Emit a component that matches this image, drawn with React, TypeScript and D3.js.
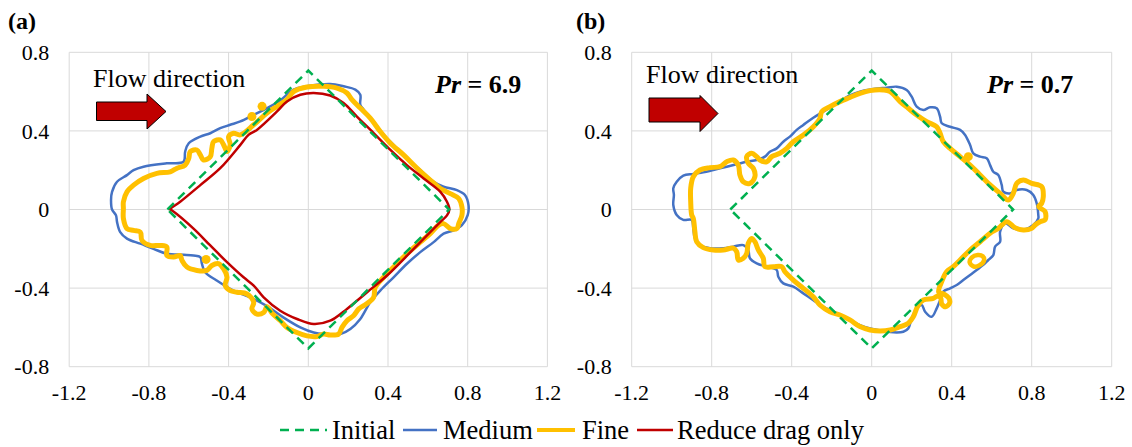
import React from "react";
import * as d3 from "d3";

// ---------- data ----------
const xTicks = [-1.2, -0.8, -0.4, 0, 0.4, 0.8, 1.2];
const yTicks = [-0.8, -0.4, 0, 0.4, 0.8];
const seriesNames = ["Initial", "Medium", "Fine", "Reduce drag only"];
const panelLabels = ["(a)", "(b)"];
const prLabels = ["6.9", "0.7"];
const flowText = "Flow direction";

const initialShape: [number, number][] = [
  [-0.707, 0], [0, 0.707], [0.707, 0], [0, -0.707],
];

const mediumA: [number, number][] = [
  [-0.985, 0.0], [-0.99, 0.05], [-0.985, 0.09], [-0.96, 0.141], [-0.91, 0.175], [-0.877, 0.2],
  [-0.827, 0.218], [-0.71, 0.235], [-0.626, 0.243], [-0.618, 0.295], [-0.6, 0.337], [-0.542, 0.371],
  [-0.492, 0.388], [-0.442, 0.414], [-0.392, 0.431], [-0.341, 0.448], [-0.274, 0.482], [-0.207, 0.516],
  [-0.141, 0.555], [-0.074, 0.61], [-0.007, 0.627], [0.11, 0.639], [0.177, 0.627], [0.236, 0.61],
  [0.261, 0.584], [0.261, 0.533], [0.278, 0.508], [0.328, 0.448], [0.378, 0.38], [0.428, 0.329],
  [0.495, 0.261], [0.562, 0.201], [0.629, 0.141], [0.679, 0.116], [0.746, 0.099], [0.787, 0.073],
  [0.804, 0.022], [0.8, -0.029], [0.771, -0.08], [0.729, -0.106], [0.679, -0.123], [0.629, -0.166],
  [0.562, -0.217], [0.495, -0.276], [0.428, -0.345], [0.361, -0.413], [0.311, -0.472], [0.261, -0.557],
  [0.211, -0.608], [0.161, -0.634], [0.077, -0.634], [0.027, -0.626], [-0.04, -0.6], [-0.124, -0.55],
  [-0.207, -0.492], [-0.291, -0.447], [-0.375, -0.413], [-0.46, -0.361], [-0.518, -0.319], [-0.534, -0.276],
  [-0.542, -0.242], [-0.576, -0.234], [-0.626, -0.23], [-0.71, -0.225], [-0.777, -0.2], [-0.843, -0.174],
  [-0.91, -0.148], [-0.944, -0.115], [-0.96, -0.063], [-0.965, -0.03],
];

const fineA: [number, number][] = [
  [-0.928, 0.005], [-0.928, 0.039], [-0.91, 0.09], [-0.877, 0.124], [-0.827, 0.158], [-0.76, 0.184],
  [-0.693, 0.192], [-0.659, 0.21], [-0.618, 0.226], [-0.6, 0.26], [-0.592, 0.295], [-0.559, 0.303],
  [-0.542, 0.278], [-0.526, 0.252], [-0.492, 0.269], [-0.484, 0.312], [-0.475, 0.346], [-0.442, 0.354],
  [-0.425, 0.329], [-0.408, 0.295], [-0.392, 0.329], [-0.4, 0.371], [-0.375, 0.388], [-0.341, 0.38],
  [-0.274, 0.431], [-0.207, 0.491], [-0.157, 0.525], [-0.107, 0.559], [-0.074, 0.6], [-0.007, 0.623],
  [0.077, 0.627], [0.144, 0.618], [0.194, 0.593], [0.219, 0.559], [0.261, 0.516], [0.311, 0.465],
  [0.361, 0.397], [0.412, 0.337], [0.478, 0.278], [0.546, 0.21], [0.612, 0.15], [0.663, 0.107],
  [0.713, 0.081], [0.755, 0.056], [0.771, 0.013], [0.771, -0.029], [0.755, -0.072], [0.746, -0.097],
  [0.713, -0.097], [0.679, -0.072], [0.654, -0.08], [0.612, -0.123], [0.562, -0.166], [0.495, -0.225],
  [0.428, -0.293], [0.378, -0.345], [0.336, -0.396], [0.328, -0.447], [0.303, -0.472], [0.278, -0.489],
  [0.253, -0.506], [0.228, -0.54], [0.194, -0.566], [0.169, -0.6], [0.152, -0.634], [0.11, -0.639],
  [0.077, -0.634], [0.044, -0.646], [-0.007, -0.643], [-0.057, -0.626], [-0.107, -0.6], [-0.141, -0.565],
  [-0.18, -0.53], [-0.207, -0.495], [-0.224, -0.524], [-0.258, -0.532], [-0.283, -0.506], [-0.274, -0.472],
  [-0.308, -0.43], [-0.358, -0.421], [-0.392, -0.413], [-0.417, -0.387], [-0.408, -0.345], [-0.425, -0.302],
  [-0.45, -0.276], [-0.484, -0.285], [-0.509, -0.31], [-0.559, -0.31], [-0.609, -0.293], [-0.634, -0.259],
  [-0.643, -0.234], [-0.676, -0.242], [-0.71, -0.234], [-0.71, -0.191], [-0.743, -0.183], [-0.793, -0.183],
  [-0.835, -0.157], [-0.843, -0.115], [-0.877, -0.106], [-0.91, -0.097], [-0.928, -0.046],
];

const fineDotsA: [number, number][] = [
  [-0.232, 0.525], [-0.283, 0.473], [-0.513, -0.254],
];

const reduceDragA: [number, number][] = [
  [-0.693, 0], [-0.643, 0.039], [-0.542, 0.124], [-0.442, 0.21], [-0.341, 0.329], [-0.3, 0.38],
  [-0.258, 0.405], [-0.157, 0.499], [-0.107, 0.55], [-0.04, 0.584], [0.027, 0.593], [0.11, 0.58],
  [0.177, 0.542], [0.244, 0.473], [0.328, 0.389], [0.412, 0.303], [0.495, 0.226], [0.579, 0.158],
  [0.663, 0.09], [0.696, 0.039], [0.708, 0], [0.696, -0.03], [0.663, -0.063], [0.529, -0.2],
  [0.395, -0.336], [0.295, -0.421], [0.194, -0.506], [0.11, -0.566], [0.027, -0.583], [-0.05, -0.56],
  [-0.141, -0.515], [-0.224, -0.447], [-0.274, -0.387], [-0.325, -0.345], [-0.408, -0.268],
  [-0.492, -0.183], [-0.576, -0.097], [-0.684, -0.005],
];

const mediumB: [number, number][] = [
  [-0.992, 0.023], [-0.989, 0.074], [-0.992, 0.108], [-0.975, 0.141], [-0.942, 0.172], [-0.892, 0.181],
  [-0.842, 0.189], [-0.792, 0.201], [-0.725, 0.218], [-0.675, 0.23], [-0.625, 0.243], [-0.575, 0.252],
  [-0.534, 0.269], [-0.509, 0.294], [-0.475, 0.311], [-0.442, 0.345], [-0.409, 0.371], [-0.375, 0.405],
  [-0.342, 0.43], [-0.292, 0.467], [-0.242, 0.498], [-0.175, 0.54], [-0.109, 0.581], [-0.059, 0.6],
  [0.008, 0.613], [0.075, 0.62], [0.125, 0.625], [0.175, 0.608], [0.2, 0.574], [0.225, 0.523],
  [0.258, 0.506], [0.292, 0.52], [0.325, 0.515], [0.342, 0.472], [0.35, 0.439], [0.392, 0.421],
  [0.442, 0.405], [0.467, 0.379], [0.492, 0.328], [0.508, 0.286], [0.542, 0.269], [0.575, 0.261],
  [0.592, 0.226], [0.608, 0.192], [0.633, 0.176], [0.65, 0.125], [0.658, 0.091], [0.692, 0.082],
  [0.725, 0.099], [0.775, 0.099], [0.808, 0.074], [0.825, 0.032], [0.833, -0.028], [0.833, -0.045],
  [0.808, -0.079], [0.758, -0.104], [0.708, -0.096], [0.667, -0.07], [0.642, -0.113], [0.642, -0.164],
  [0.617, -0.189], [0.608, -0.232], [0.583, -0.257], [0.558, -0.282], [0.525, -0.308], [0.492, -0.333],
  [0.458, -0.359], [0.425, -0.384], [0.392, -0.401], [0.358, -0.418], [0.342, -0.461], [0.325, -0.503],
  [0.3, -0.546], [0.267, -0.52], [0.25, -0.486], [0.225, -0.503], [0.2, -0.554], [0.183, -0.605],
  [0.158, -0.622], [0.108, -0.625], [0.058, -0.618], [-0.008, -0.605], [-0.059, -0.588], [-0.109, -0.562],
  [-0.175, -0.528], [-0.242, -0.495], [-0.292, -0.461], [-0.342, -0.427], [-0.392, -0.393], [-0.442, -0.376],
  [-0.467, -0.342], [-0.475, -0.308], [-0.525, -0.291], [-0.575, -0.274], [-0.609, -0.248], [-0.617, -0.206],
  [-0.642, -0.181], [-0.692, -0.189], [-0.742, -0.197], [-0.809, -0.197], [-0.859, -0.181], [-0.884, -0.147],
  [-0.892, -0.096], [-0.9, -0.053], [-0.942, -0.053], [-0.975, -0.028],
];

const fineB: [number, number][] = [
  [-0.9, -0.028], [-0.905, 0.04], [-0.905, 0.108], [-0.892, 0.167], [-0.859, 0.201], [-0.809, 0.213],
  [-0.759, 0.218], [-0.725, 0.243], [-0.692, 0.252], [-0.667, 0.226], [-0.659, 0.176], [-0.642, 0.141],
  [-0.609, 0.133], [-0.584, 0.167], [-0.592, 0.21], [-0.617, 0.235], [-0.625, 0.269], [-0.6, 0.286],
  [-0.575, 0.269], [-0.559, 0.252], [-0.525, 0.243], [-0.5, 0.269], [-0.459, 0.286], [-0.425, 0.311],
  [-0.392, 0.345], [-0.342, 0.379], [-0.292, 0.421], [-0.259, 0.464], [-0.25, 0.498], [-0.209, 0.523],
  [-0.159, 0.549], [-0.109, 0.57], [-0.059, 0.591], [-0.008, 0.605], [0.058, 0.608], [0.092, 0.6],
  [0.142, 0.549], [0.183, 0.515], [0.225, 0.481], [0.275, 0.447], [0.325, 0.421], [0.342, 0.388],
  [0.358, 0.345], [0.392, 0.311], [0.442, 0.269], [0.492, 0.226], [0.542, 0.176], [0.592, 0.125],
  [0.642, 0.082], [0.683, 0.048], [0.708, 0.082], [0.725, 0.133], [0.758, 0.15], [0.8, 0.133],
  [0.85, 0.116], [0.858, 0.065], [0.85, 0.032], [0.835, 0.015], [0.867, -0.011], [0.867, -0.053],
  [0.842, -0.062], [0.817, -0.079], [0.8, -0.096], [0.758, -0.104], [0.717, -0.093], [0.675, -0.062],
  [0.633, -0.096], [0.592, -0.121], [0.542, -0.164], [0.492, -0.206], [0.442, -0.257], [0.408, -0.291],
  [0.375, -0.316], [0.35, -0.367], [0.335, -0.42], [0.36, -0.43], [0.385, -0.45], [0.39, -0.475],
  [0.37, -0.495], [0.35, -0.48], [0.345, -0.45], [0.33, -0.44], [0.308, -0.452], [0.258, -0.461],
  [0.233, -0.486], [0.208, -0.546], [0.183, -0.579], [0.142, -0.596], [0.092, -0.613], [0.042, -0.618],
  [-0.008, -0.613], [-0.059, -0.596], [-0.109, -0.562], [-0.159, -0.537], [-0.209, -0.52], [-0.259, -0.486],
  [-0.292, -0.444], [-0.342, -0.401], [-0.392, -0.359], [-0.434, -0.317], [-0.45, -0.291], [-0.492, -0.291],
  [-0.534, -0.291], [-0.542, -0.248], [-0.567, -0.206], [-0.584, -0.164], [-0.6, -0.147], [-0.617, -0.172],
  [-0.625, -0.223], [-0.642, -0.248], [-0.667, -0.257], [-0.675, -0.215], [-0.692, -0.197], [-0.742, -0.206],
  [-0.792, -0.206], [-0.842, -0.194], [-0.875, -0.164], [-0.884, -0.113], [-0.892, -0.045],
];

const fineLoopB: [number, number][] = [
  [0.49, -0.27], [0.5, -0.245], [0.53, -0.232], [0.555, -0.238], [0.562, -0.258], [0.54, -0.283], [0.51, -0.29],
];

const fineDotsB: [number, number][] = [[0.483, 0.269]];

// ---------- layout ----------
const W = 1132;
const H = 447;
const TOP = 52.3;
const BOTTOM = 366.7;
const FONT = "Liberation Serif";

const COLORS = {
  initial: "#00B050",
  medium: "#4472C4",
  fine: "#FFC000",
  reduce: "#C00000",
  grid: "#D9D9D9",
};

type PanelProps = {
  left: number;
  right: number;
  label: string;
  labelX: number;
  pr: string;
  prX: number;
  flowX: number;
  flowY: number;
  arrow: { x0: number; x1: number; x2: number; ry0: number; ry1: number; hy0: number; hy1: number };
  medium: [number, number][];
  fine: [number, number][];
  fineLoops: [number, number][][];
  fineDots: [number, number][];
  reduce?: [number, number][];
};

function Panel(p: PanelProps) {
  const x = d3.scaleLinear().domain([-1.2, 1.2]).range([p.left, p.right]);
  const y = d3.scaleLinear().domain([-0.8, 0.8]).range([BOTTOM, TOP]);
  const smooth = d3
    .line<[number, number]>()
    .x((d) => x(d[0]))
    .y((d) => y(d[1]))
    .curve(d3.curveCatmullRomClosed.alpha(0.5));
  const straight = d3
    .line<[number, number]>()
    .x((d) => x(d[0]))
    .y((d) => y(d[1]))
    .curve(d3.curveLinearClosed);
  const a = p.arrow;
  const arrowPath = `M${a.x0},${a.ry0}L${a.x1},${a.ry0}L${a.x1},${a.hy0}L${a.x2},${(a.hy0 + a.hy1) / 2}L${a.x1},${a.hy1}L${a.x1},${a.ry1}L${a.x0},${a.ry1}Z`;
  const fmt = (t: number) => String(+t.toFixed(1));
  return (
    <g>
      {xTicks.map((t) => (
        <line key={"gx" + t} x1={x(t)} x2={x(t)} y1={TOP} y2={BOTTOM} stroke={COLORS.grid} strokeWidth={1} />
      ))}
      {yTicks.map((t) => (
        <line key={"gy" + t} x1={p.left} x2={p.right} y1={y(t)} y2={y(t)} stroke={COLORS.grid} strokeWidth={1} />
      ))}
      {yTicks.map((t) => (
        <text key={"ty" + t} x={p.left - 20} y={y(t)} dy="0.35em" textAnchor="end" fontSize={22} fontFamily={FONT}>
          {fmt(t)}
        </text>
      ))}
      {xTicks.map((t) => (
        <text key={"tx" + t} x={x(t)} y={400} textAnchor="middle" fontSize={22} fontFamily={FONT}>
          {fmt(t)}
        </text>
      ))}
      <path d={smooth(p.medium) || ""} fill="none" stroke={COLORS.medium} strokeWidth={2.5} strokeLinejoin="round" />
      <path d={smooth(p.fine) || ""} fill="none" stroke={COLORS.fine} strokeWidth={5} strokeLinejoin="round" />
      {p.fineLoops.map((l, i) => (
        <path key={"fl" + i} d={smooth(l) || ""} fill="none" stroke={COLORS.fine} strokeWidth={4.5} />
      ))}
      {p.fineDots.map((d, i) => (
        <circle key={"fd" + i} cx={x(d[0])} cy={y(d[1])} r={4.5} fill={COLORS.fine} />
      ))}
      {p.reduce && (
        <path d={smooth(p.reduce) || ""} fill="none" stroke={COLORS.reduce} strokeWidth={2.5} strokeLinejoin="round" />
      )}
      <path
        d={straight(initialShape) || ""}
        fill="none"
        stroke={COLORS.initial}
        strokeWidth={2.5}
        strokeDasharray="9,6"
      />
      <text x={p.labelX} y={29} fontSize={24} fontWeight="bold" fontFamily={FONT}>
        {p.label}
      </text>
      <text x={p.flowX} y={p.flowY} fontSize={26} fontFamily={FONT}>
        {flowText}
      </text>
      <path d={arrowPath} fill={COLORS.reduce} stroke="#000" strokeWidth={1} />
      <text x={p.prX} y={93} fontSize={26} fontWeight="bold" fontFamily={FONT}>
        <tspan fontStyle="italic">Pr</tspan>
        <tspan> = {p.pr}</tspan>
      </text>
    </g>
  );
}

export default function App() {
  const legendItems = [
    { name: seriesNames[0], color: COLORS.initial, dash: "9,6", x0: 280, x1: 327, tx: 332 },
    { name: seriesNames[1], color: COLORS.medium, dash: undefined, x0: 403, x1: 437, tx: 443 },
    { name: seriesNames[2], color: COLORS.fine, dash: undefined, x0: 537, x1: 575, tx: 582 },
    { name: seriesNames[3], color: COLORS.reduce, dash: undefined, x0: 637, x1: 673, tx: 677 },
  ];
  return (
    <svg
      width={W}
      height={H}
      viewBox={`0 0 ${W} ${H}`}
      style={{ position: "absolute", left: 0, top: 0, background: "#fff" }}
    >
      <rect width={W} height={H} fill="#fff" />
      <Panel
        left={69.2}
        right={547.4}
        label={panelLabels[0]}
        labelX={8}
        pr={prLabels[0]}
        prX={435}
        flowX={93}
        flowY={87}
        arrow={{ x0: 96.5, x1: 147, x2: 166, ry0: 102, ry1: 120.5, hy0: 94, hy1: 129 }}
        medium={mediumA}
        fine={fineA}
        fineLoops={[]}
        fineDots={fineDotsA}
        reduce={reduceDragA}
      />
      <Panel
        left={631.7}
        right={1111.7}
        label={panelLabels[1]}
        labelX={576}
        pr={prLabels[1]}
        prX={987}
        flowX={646}
        flowY={83}
        arrow={{ x0: 649, x1: 700, x2: 718, ry0: 98, ry1: 122, hy0: 95.5, hy1: 131.5 }}
        medium={mediumB}
        fine={fineB}
        fineLoops={[fineLoopB]}
        fineDots={fineDotsB}
      />
      {legendItems.map((it) => (
        <g key={it.name}>
          <line
            x1={it.x0}
            x2={it.x1}
            y1={430}
            y2={430}
            stroke={it.color}
            strokeWidth={it.color === COLORS.fine ? 4 : 2.5}
            strokeDasharray={it.dash}
          />
          <text x={it.tx} y={439} fontSize={26.5} fontFamily={FONT}>
            {it.name}
          </text>
        </g>
      ))}
    </svg>
  );
}
